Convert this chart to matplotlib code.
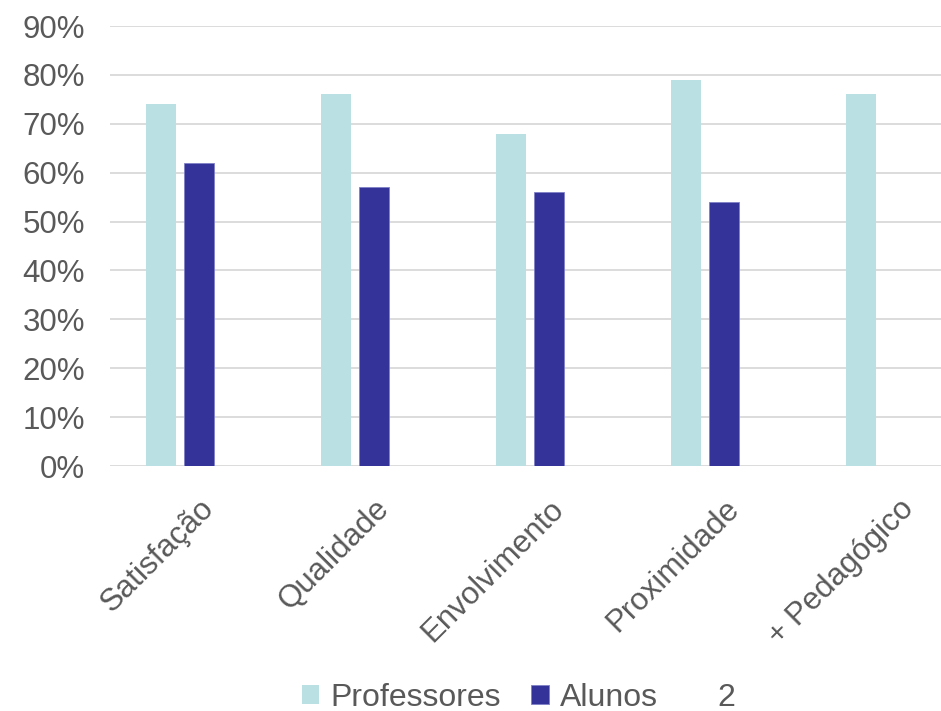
import numpy as np
import matplotlib.pyplot as plt

plt.rcParams['font.family'] = ['Liberation Sans', 'DejaVu Sans']

categorias = ['Satisfação', 'Qualidade', 'Envolvimento', 'Proximidade', '+ Pedagógico']
professores = [0.74, 0.76, 0.68, 0.79, 0.76]
alunos = [0.62, 0.57, 0.56, 0.54, np.nan]
serie2 = [0, 0, 0, 0, 0]
yticks = np.arange(0, 1.0, 0.1)

cor_texto = '#595959'

fig = plt.figure(figsize=(9.41, 7.11), dpi=100)
ax = fig.add_axes([110/941, 245/711, 831/941, 440/711])

x = np.arange(len(categorias))
w = 0.171
passo = 0.217
ax.bar(x - passo, professores, w, color='#BBE0E3', label='Professores', zorder=3)
ax.bar(x, alunos, w, color='#333399', edgecolor='#7F7FC8', linewidth=0.6, label='Alunos', zorder=3)
ax.bar(x + passo, serie2, w, color='none', label='2', zorder=3)

ax.set_ylim(0, 0.9)
ax.set_xlim(-0.509, -0.509 + 831/175)
ax.set_yticks(yticks)
ax.set_yticklabels([f'{int(round(v*100))}%' for v in yticks])
ax.yaxis.grid(True, color='#D9D9D9', linewidth=1.3, zorder=0)
ax.set_axisbelow(True)
for s in ax.spines.values():
    s.set_visible(False)
ax.tick_params(axis='both', length=0, labelsize=22.5, labelcolor=cor_texto)
ax.tick_params(axis='y', pad=18)

ax.set_xticks(x)
ax.set_xticklabels(categorias, rotation=45, ha='right', rotation_mode='anchor')
ax.tick_params(axis='x', pad=20)

fig.legend(loc='lower center', bbox_to_anchor=(0.551, -0.043), ncol=3, frameon=False,
           fontsize=23, labelcolor=cor_texto, handlelength=0.55, handleheight=0.55,
           handletextpad=0.35, columnspacing=0.95)

fig.savefig('out.png', dpi=100)
